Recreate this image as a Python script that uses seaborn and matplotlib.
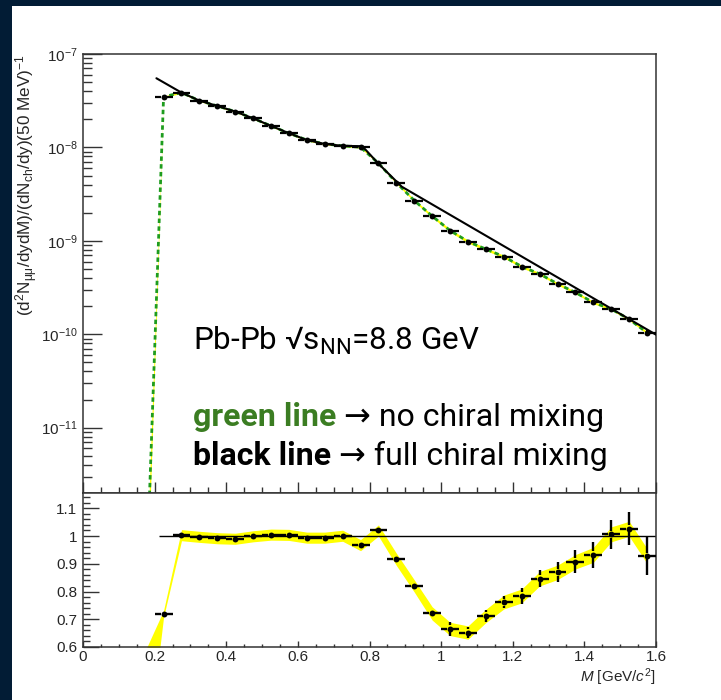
import numpy as np
import matplotlib
matplotlib.use("Agg")
import matplotlib.pyplot as plt
import seaborn as sns
from matplotlib.patches import Rectangle
from matplotlib.ticker import MultipleLocator, FixedLocator, FixedFormatter, LogLocator, NullFormatter

# ---- dimuon invariant-mass spectrum, 50 MeV bins ----
mass = [0.225, 0.275, 0.325, 0.375, 0.425, 0.475, 0.525, 0.575, 0.625, 0.675,
        0.725, 0.775, 0.825, 0.875, 0.925, 0.975, 1.025, 1.075, 1.125, 1.175,
        1.225, 1.275, 1.325, 1.375, 1.425, 1.475, 1.525, 1.575]
dimuon_yield = [3.49e-8, 3.86e-8, 3.17e-8, 2.78e-8, 2.42e-8, 2.05e-8, 1.70e-8, 1.42e-8,
                1.20e-8, 1.09e-8, 1.04e-8, 1.005e-8, 6.78e-9, 4.20e-9, 2.70e-9, 1.84e-9,
                1.29e-9, 9.84e-10, 8.15e-10, 6.79e-10, 5.31e-10, 4.43e-10, 3.47e-10,
                2.80e-10, 2.19e-10, 1.86e-10, 1.45e-10, 1.04e-10]

# no chiral mixing (green) model, including the bin below threshold
green_mass = [0.175] + mass
green_yield = [1.3e-13] + dimuon_yield

# full chiral mixing (black) model
black_mass = [0.205, 0.275, 0.325, 0.375, 0.425, 0.475, 0.525, 0.575, 0.625, 0.675,
              0.725, 0.78, 0.825, 0.89, 1.6]
black_yield = [5.5e-8, 3.86e-8, 3.17e-8, 2.78e-8, 2.42e-8, 2.05e-8, 1.70e-8, 1.42e-8,
               1.20e-8, 1.09e-8, 1.04e-8, 1.03e-8, 6.7e-9, 3.8e-9, 9.9e-11]

# ---- ratio panel ----
ratio = [0.72, 1.003, 0.997, 0.992, 0.990, 0.999, 1.005, 1.004, 0.994, 0.994,
         1.001, 0.967, 1.020, 0.916, 0.820, 0.721, 0.665, 0.652, 0.712, 0.762,
         0.784, 0.846, 0.869, 0.907, 0.932, 1.006, 1.026, 0.928]
ratio_err = [0.008, 0.006, 0.006, 0.006, 0.006, 0.006, 0.006, 0.006, 0.006, 0.006,
             0.006, 0.007, 0.008, 0.009, 0.012, 0.013, 0.025, 0.020, 0.021, 0.022,
             0.028, 0.031, 0.036, 0.041, 0.047, 0.053, 0.060, 0.067]
band_mass = [0.175] + mass
band_center = [0.38] + ratio
band_err = [0.21, 0.012, 0.020, 0.020, 0.020, 0.020, 0.020, 0.020, 0.020, 0.020,
            0.020, 0.020, 0.020, 0.020, 0.022, 0.022, 0.024, 0.024, 0.024, 0.024,
            0.025, 0.025, 0.026, 0.026, 0.026, 0.027, 0.027, 0.027, 0.027]

decade_ticks = [1e-11, 1e-10, 1e-9, 1e-8, 1e-7]
ratio_ticks = [0.6, 0.7, 0.8, 0.9, 1.0, 1.1]
ratio_tick_labels = ["0.6", "0.7", "0.8", "0.9", "1", "1.1"]
mass_ticks = [0, 0.2, 0.4, 0.6, 0.8, 1.0, 1.2, 1.4, 1.6]
mass_tick_labels = ["0", "0.2", "0.4", "0.6", "0.8", "1", "1.2", "1.4", "1.6"]

half_bin = 0.025
threshold = 0.211

GREEN = "#1e9c1e"
LABEL_GREEN = "#3b7d22"
YELLOW = "#ffff00"
NAVY = "#021c35"
AXIS = "#333333"

sns.set_theme(style="ticks")
plt.rcParams.update({
    "font.family": ["Liberation Sans", "DejaVu Sans"],
    "mathtext.fontset": "custom",
    "mathtext.rm": "Liberation Sans",
    "mathtext.it": "Liberation Sans:italic",
    "mathtext.default": "regular",
    "axes.edgecolor": AXIS,
    "axes.linewidth": 1.1,
    "axes.unicode_minus": True,
})

W, H = 721, 700
fig = plt.figure(figsize=(W / 100, H / 100), dpi=100)
fig.patch.set_facecolor(NAVY)
fig.add_artist(Rectangle((12 / W, 0), (W - 12) / W, 694 / H, transform=fig.transFigure,
                         facecolor="white", edgecolor="none", zorder=-10))


def fx(px):
    return px / W


def fy(py):
    return 1 - py / H


ax = fig.add_axes([fx(83), fy(493), (656 - 83) / W, (493 - 54) / H])
rx = fig.add_axes([fx(83), fy(647), (656 - 83) / W, (647 - 493) / H])

mass_a = np.array(mass)
yield_a = np.array(dimuon_yield)
ratio_a = np.array(ratio)
rerr_a = np.array(ratio_err)

# ---------------- upper panel ----------------
ax.set_yscale("log")
ax.set_xlim(0, 1.6)
ax.set_ylim(2e-12, 1e-7)

rel_band = np.array(band_err) / np.array(band_center)
g_a = np.array(green_yield)
ax.fill_between(green_mass, g_a * (1 - rel_band), g_a * (1 + rel_band),
                color=YELLOW, linewidth=0, zorder=1)
sns.lineplot(x=green_mass, y=green_yield, ax=ax, color=GREEN, linewidth=2.0,
             linestyle=(0, (1.6, 1.2)), sort=False, estimator=None, zorder=2)
sns.lineplot(x=black_mass, y=black_yield, ax=ax, color="black", linewidth=1.5,
             sort=False, estimator=None, zorder=3)

gap = 0.008
ax.hlines(yield_a, mass_a - half_bin, mass_a - gap, color="black", linewidth=1.6, zorder=4)
ax.hlines(yield_a, mass_a + gap, mass_a + half_bin, color="black", linewidth=1.6, zorder=4)
yerr_up = yield_a * rerr_a / ratio_a
ax.vlines(mass_a, yield_a - yerr_up, yield_a + yerr_up, color="black", linewidth=1.5, zorder=4)
sns.scatterplot(x=mass, y=dimuon_yield, ax=ax, color="black", s=18, marker="o",
                linewidth=0, zorder=5, legend=False)

ax.yaxis.set_major_locator(FixedLocator(decade_ticks))
ax.yaxis.set_minor_locator(LogLocator(base=10, subs=np.arange(2, 10), numticks=20))
ax.yaxis.set_minor_formatter(NullFormatter())
ax.xaxis.set_major_locator(MultipleLocator(0.2))
ax.xaxis.set_minor_locator(MultipleLocator(0.05))
ax.tick_params(axis="y", which="major", direction="in", length=14, width=1.0,
               left=True, right=False, labelsize=11, pad=4, color=AXIS)
ax.tick_params(axis="y", which="minor", direction="in", length=6.5, width=1.0,
               left=True, right=False, color=AXIS)
ax.tick_params(axis="x", which="major", direction="in", length=8, width=1.0,
               bottom=True, top=False, labelbottom=False, color=AXIS)
ax.tick_params(axis="x", which="minor", direction="in", length=4.3, width=1.0,
               bottom=True, top=False, color=AXIS)
ax.set_xlabel("")
ax.set_ylabel("")
ax.grid(False)

# ---------------- ratio panel ----------------
rx.set_xlim(0, 1.6)
rx.set_ylim(0.6, 1.155)
rx.fill_between(band_mass, np.array(band_center) - np.array(band_err),
                np.array(band_center) + np.array(band_err),
                color=YELLOW, linewidth=0, zorder=1)
rx.hlines(1.0, threshold, 1.6, color="black", linewidth=1.0, zorder=2)

rgap = 0.0125
rx.hlines(ratio_a, mass_a - half_bin, mass_a - gap, color="black", linewidth=1.7, zorder=3)
rx.hlines(ratio_a, mass_a + gap, mass_a + half_bin, color="black", linewidth=1.7, zorder=3)
big = rerr_a > rgap
rx.vlines(mass_a[big], ratio_a[big] + rgap, ratio_a[big] + rerr_a[big],
          color="black", linewidth=1.7, zorder=3)
rx.vlines(mass_a[big], ratio_a[big] - rerr_a[big], ratio_a[big] - rgap,
          color="black", linewidth=1.7, zorder=3)
sns.scatterplot(x=mass, y=ratio, ax=rx, color="black", s=18, marker="o",
                linewidth=0, zorder=5, legend=False)

rx.yaxis.set_major_locator(FixedLocator(ratio_ticks))
rx.yaxis.set_major_formatter(FixedFormatter(ratio_tick_labels))
rx.yaxis.set_minor_locator(MultipleLocator(0.02))
rx.yaxis.set_minor_formatter(NullFormatter())
rx.xaxis.set_major_locator(FixedLocator(mass_ticks))
rx.xaxis.set_major_formatter(FixedFormatter(mass_tick_labels))
rx.xaxis.set_minor_locator(MultipleLocator(0.05))
rx.xaxis.set_minor_formatter(NullFormatter())
rx.tick_params(axis="y", which="major", direction="in", length=11.5, width=1.0,
               left=True, right=False, labelsize=11, pad=4, color=AXIS)
rx.tick_params(axis="y", which="minor", direction="in", length=5, width=1.0,
               left=True, right=False, color=AXIS)
rx.tick_params(axis="x", which="major", direction="in", length=4, width=1.0,
               bottom=True, top=False, labelsize=11, pad=2.5, color=AXIS)
rx.tick_params(axis="x", which="minor", direction="in", length=2, width=1.0,
               bottom=True, top=False, color=AXIS)
rx.set_xlabel("")
rx.set_ylabel("")
rx.grid(False)

# ---------------- axis titles ----------------
fig.text(fx(27), fy(55),
         r"(d$^{2}$N$_{\mu\mu}$/dydM)/(dN$_{ch}$/dy)(50 MeV)$^{-1}$",
         rotation=90, ha="center", va="top", fontsize=12.3)
fig.text(fx(656), fy(682), r"$\mathit{M}$ [GeV/$\mathit{c}^{2}$]",
         ha="right", va="baseline", fontsize=11)

# ---------------- annotations ----------------
roboto = ["Roboto", "DejaVu Sans"]
fig.text(fx(193), fy(350), r"Pb-Pb √s$_{NN}$=8.8 GeV", family=roboto,
         fontsize=22.6, ha="left", va="baseline", color="black")

renderer = fig.canvas.get_renderer()
for py, lead, lead_color, rest in [(426, "green line", LABEL_GREEN, " → no chiral mixing"),
                                   (465, "black line", "black", " → full chiral mixing")]:
    t1 = fig.text(fx(193), fy(py), lead, family=roboto, fontsize=23, fontweight="bold",
                  color=lead_color, ha="left", va="baseline")
    bb = t1.get_window_extent(renderer)
    fig.text(bb.x1 / W, fy(py), rest, family=roboto, fontsize=23,
             color="black", ha="left", va="baseline")

fig.savefig("out.png", dpi=100, facecolor=fig.get_facecolor())
